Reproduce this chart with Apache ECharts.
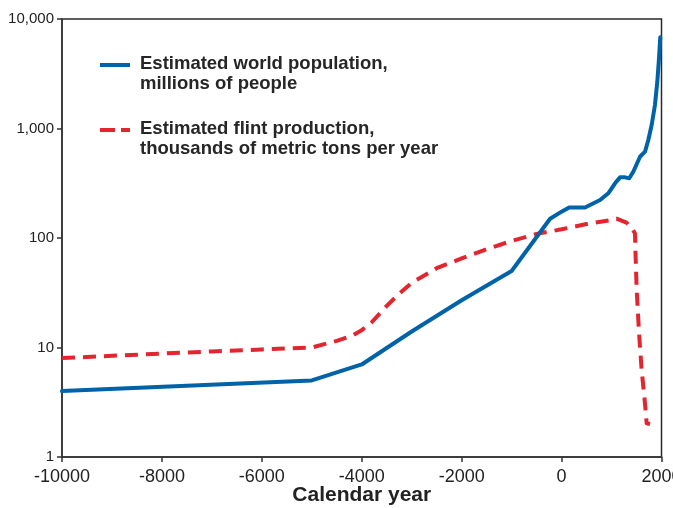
<!DOCTYPE html>
<html>
<head>
<meta charset="utf-8">
<script src="https://cdn.jsdelivr.net/npm/echarts@6/dist/echarts.min.js"></script>
<style>
  html, body { margin: 0; padding: 0; background: #ffffff; }
  #chart { width: 673px; height: 508px; }
</style>
</head>
<body>
<div id="chart"></div>
<script>
// ---- data ----
const popYears = [-10000, -5000, -4000, -3000, -2000, -1000, -230, 0, 150, 470, 570, 770, 935, 1070, 1170, 1270, 1355, 1435, 1570, 1670, 1736, 1803, 1869, 1916, 1950, 1975];
const population = [4, 5, 7, 14, 27, 50, 150, 174, 190, 190, 200, 222, 256, 316, 358, 358, 351, 403, 552, 614, 785, 1077, 1640, 2670, 4370, 6800];

const flintYears = [-10000, -9000, -8000, -7000, -6000, -5000, -4500, -4200, -4000, -3800, -3500, -3250, -3000, -2800, -2500, -2000, -1500, -1000, -500, 0, 500, 1000, 1100, 1300, 1420, 1470, 1475, 1503, 1550, 1603, 1669, 1703, 1770];
const flint = [8.0, 8.4, 8.8, 9.2, 9.6, 10, 11.5, 12.8, 14.4, 17, 24, 31, 39, 44, 53, 65, 79, 94, 109, 120, 134, 146, 150, 138, 120, 110, 85, 34, 13.6, 6.2, 3.1, 2.03, 2.0];

const xTickValues = [-10000, -8000, -6000, -4000, -2000, 0, 2000];
const xTickLabels = ['-10000', '-8000', '-6000', '-4000', '-2000', '0', '2000'];
const yTickValues = [1, 10, 100, 1000, 10000];
const yTickLabels = ['1', '10', '100', '1,000', '10,000'];

const seriesNames = ['Estimated world population,\nmillions of people', 'Estimated flint production,\nthousands of metric tons per year'];
const xAxisTitle = 'Calendar year';

const BLUE = '#0063a8';
const RED = '#e2252f';
const INK = '#222222';

const popData = popYears.map((y, i) => [y, population[i]]);
const flintData = flintYears.map((y, i) => [y, flint[i]]);

const chart = echarts.init(document.getElementById('chart'), null, { renderer: 'canvas' });

const option = {
  animation: false,
  backgroundColor: '#ffffff',
  grid: {
    left: 62, right: 11.5, top: 19, bottom: 51,
    containLabel: false,
    outerBoundsMode: 'none',
    show: true, borderColor: '#2a2a2a', borderWidth: 1.5, backgroundColor: 'transparent'
  },
  xAxis: {
    type: 'value',
    min: -10000, max: 2000, interval: 2000,
    name: xAxisTitle,
    nameLocation: 'middle',
    nameGap: 28,
    nameMoveOverlap: false,
    nameTextStyle: { fontFamily: 'Liberation Sans, Arial, sans-serif', fontSize: 21, fontWeight: 'bold', color: INK },
    axisLine: { show: true, onZero: false, lineStyle: { color: '#333', width: 1.5 } },
    axisTick: { show: true, inside: false, length: 5, lineStyle: { color: '#333', width: 1.5 } },
    axisLabel: {
      margin: 11,
      fontFamily: 'Liberation Sans, Arial, sans-serif', fontSize: 18, color: INK,
      formatter: function (v) { const k = xTickValues.indexOf(v); return k >= 0 ? xTickLabels[k] : ''; }
    },
    splitLine: { show: false }
  },
  yAxis: {
    type: 'log',
    logBase: 10,
    min: 1, max: 10000,
    axisLine: { show: true, onZero: false, lineStyle: { color: '#333', width: 1.5 } },
    axisTick: { show: true, inside: false, length: 5, lineStyle: { color: '#333', width: 1.5 } },
    minorTick: { show: false },
    axisLabel: {
      margin: 8,
      fontFamily: 'Liberation Sans, Arial, sans-serif', fontSize: 15, color: INK,
      formatter: function (v) {
        const k = yTickValues.findIndex(t => Math.abs(t - v) / t < 1e-6);
        return k >= 0 ? yTickLabels[k] : '';
      }
    },
    splitLine: { show: false }
  },
  legend: { show: false },
  series: [
    {
      name: seriesNames[0],
      type: 'line',
      data: popData,
      symbol: 'none',
      smooth: false,
      lineStyle: { color: BLUE, width: 4, join: 'round', cap: 'round' },
      itemStyle: { color: BLUE },
      z: 3
    },
    {
      name: seriesNames[1],
      type: 'line',
      data: flintData,
      symbol: 'none',
      smooth: false,
      lineStyle: { color: RED, width: 4, type: [13, 8], join: 'round' },
      itemStyle: { color: RED },
      z: 2
    }
  ],
  graphic: [
    { type: 'line', shape: { x1: 100, y1: 65, x2: 130, y2: 65 }, style: { stroke: BLUE, lineWidth: 4 } },
    { type: 'text', x: 140, y: 54, style: { text: seriesNames[0], fontFamily: 'Liberation Sans, Arial, sans-serif', fontSize: 18.5, fontWeight: 'bold', fill: '#262626', lineHeight: 20, verticalAlign: 'top' } },
    { type: 'line', shape: { x1: 100, y1: 130, x2: 130, y2: 130 }, style: { stroke: RED, lineWidth: 4, lineDash: [15, 6] } },
    { type: 'text', x: 140, y: 119, style: { text: seriesNames[1], fontFamily: 'Liberation Sans, Arial, sans-serif', fontSize: 18.5, fontWeight: 'bold', fill: '#262626', lineHeight: 20, verticalAlign: 'top' } }
  ]
};

chart.setOption(option);
</script>
</body>
</html>
